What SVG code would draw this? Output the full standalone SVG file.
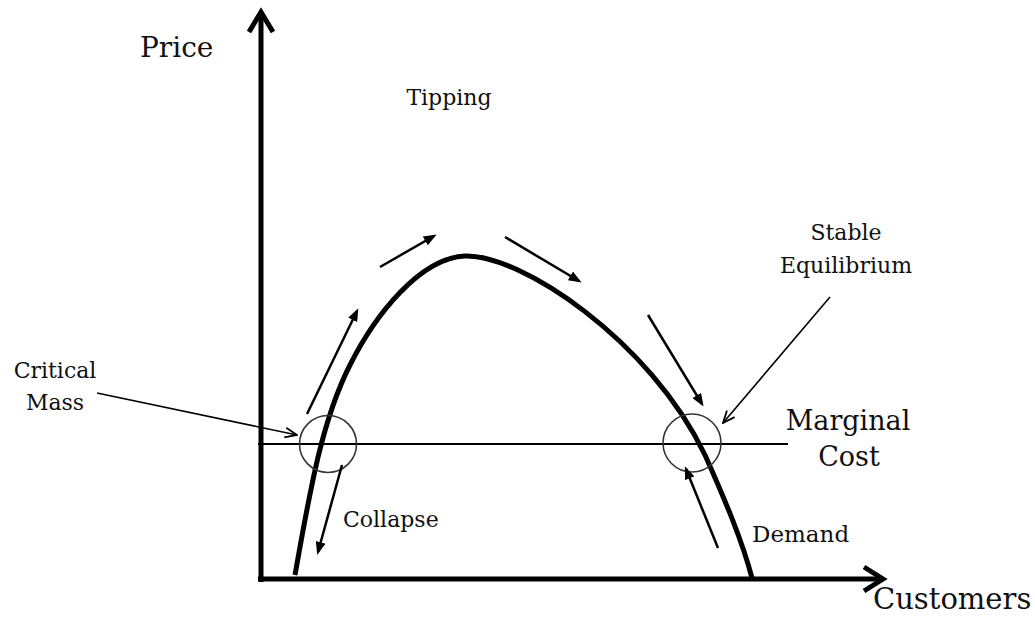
<svg xmlns="http://www.w3.org/2000/svg" width="1035" height="618" viewBox="0 0 1035 618">
<style>
  text { font-family: "DejaVu Serif", "Liberation Serif", serif; fill: #111; }
  .axis { stroke: #000; stroke-width: 5; fill: none; }
  .curve { stroke: #000; stroke-width: 5; fill: none; stroke-linecap: butt; }
  .mc { stroke: #000; stroke-width: 2; fill: none; }
  .ring { stroke: #333; stroke-width: 1.6; fill: none; }
  .flow { stroke: #000; stroke-width: 2.5; fill: none; marker-end: url(#head); }
  .ptr { stroke: #000; stroke-width: 1.6; fill: none; marker-end: url(#open); }
</style>
<defs>
  <marker id="head" viewBox="0 0 13 10" refX="10" refY="5" markerWidth="13" markerHeight="10" markerUnits="userSpaceOnUse" orient="auto">
    <path d="M0,0 L13,5 L0,10 z" fill="#000"/>
  </marker>
  <marker id="open" viewBox="0 0 14 12" refX="13" refY="6" markerWidth="14" markerHeight="12" markerUnits="userSpaceOnUse" orient="auto">
    <path d="M1,1 L13,6 L1,11" fill="none" stroke="#000" stroke-width="1.8"/>
  </marker>
</defs>
<rect width="1035" height="618" fill="#fff"/>

<g id="axes">
  <path class="axis" d="M261,582 L261,14"/>
  <path class="axis" d="M249,32 L261,12 L273,32" stroke-linejoin="miter"/>
  <path class="axis" d="M258,579 L880,579"/>
  <path class="axis" d="M864,567 L883,579 L864,591" stroke-linejoin="miter"/>
</g>

<g id="marginal-cost-line">
  <path class="mc" d="M258,444 L788,444"/>
</g>

<g id="demand-curve">
  <path class="curve" d="M295,575 C310,490 322,420 350,365 C375,315 420,258 465,256 C520,254 650,340 705,455 C725,500 742,540 752,578"/>
</g>

<g id="critical-mass-circle">
  <circle class="ring" cx="328" cy="444" r="28.5"/>
</g>
<g id="stable-equilibrium-circle">
  <circle class="ring" cx="692" cy="443" r="29"/>
</g>

<g id="connectors">
  <line class="flow" x1="307" y1="414" x2="357" y2="311"/>
  <line class="flow" x1="380" y1="267" x2="434" y2="236"/>
  <line class="flow" x1="505" y1="237" x2="579" y2="281"/>
  <line class="flow" x1="648" y1="315" x2="702" y2="404"/>
  <line class="flow" x1="718" y1="548" x2="686" y2="469"/>
  <line class="flow" x1="342" y1="465" x2="318" y2="552"/>
  <line class="ptr" x1="830" y1="297" x2="723" y2="423"/>
  <line class="ptr" x1="97" y1="393" x2="297" y2="435"/>
</g>

<g id="labels">
  <text id="price" x="140" y="57" font-size="28">Price</text>
  <text id="tipping" x="449" y="105" font-size="22" text-anchor="middle">Tipping</text>
  <g id="stable-equilibrium">
    <text x="846" y="240" font-size="22" text-anchor="middle">Stable</text>
    <text x="846" y="273" font-size="22" text-anchor="middle">Equilibrium</text>
  </g>
  <g id="critical-mass">
    <text x="55" y="378" font-size="22" text-anchor="middle">Critical</text>
    <text x="55" y="410" font-size="22" text-anchor="middle">Mass</text>
  </g>
  <g id="marginal-cost">
    <text x="848" y="430" font-size="27" text-anchor="middle">Marginal</text>
    <text x="849" y="466" font-size="27" text-anchor="middle">Cost</text>
  </g>
  <text id="collapse" x="343" y="527" font-size="22">Collapse</text>
  <text id="demand" x="752" y="542" font-size="23">Demand</text>
  <text id="customers" x="873" y="609" font-size="29">Customers</text>
</g>
</svg>
